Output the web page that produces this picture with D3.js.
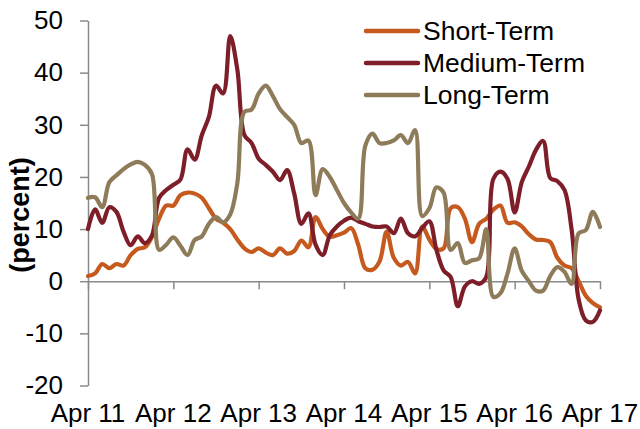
<!DOCTYPE html>
<html>
<head>
<meta charset="utf-8">
<script src="https://cdn.jsdelivr.net/npm/d3@7"></script>
<style>
  body { margin: 0; background: #fff; }
  text { font-family: Arial, "Liberation Sans", sans-serif; fill: #000; }
</style>
</head>
<body>
<script>
const svg_width = 640, svg_height = 429;

// monthly, Apr 2011 .. Apr 2017 (73 points)
var tickLabels = ["Apr 11","Apr 12","Apr 13","Apr 14","Apr 15","Apr 16","Apr 17"];
var seriesNames = ["Short-Term","Medium-Term","Long-Term"];
var seriesColors = ["#c65a1e","#7d1e29","#8e7b5a"];
var yTicks = [-20,-10,0,10,20,30,40,50];

var shortTerm = [1.0,1.5,3.3,2.5,3.3,3.0,5.0,6.2,6.5,8.5,12,14.5,
	14.5,16.5,17,16.8,16,14,12,11.2,10,8,6.3,5.6,
	6.3,5.5,5,6.3,5.3,5.8,7.8,6.5,12.3,10,8.5,8.8,
	9.3,10.2,7,2.5,2.2,3.8,9.5,4.5,3,3.7,1.5,10.5,
	8,6.2,6.3,14,14.2,12,7.5,11,12,13.7,14.5,11.2,
	11.3,10.5,9,8,7.9,7.5,4.5,3,2.5,0,-2.8,-4.2,
	-5];
var mediumTerm = [10,13.8,11.2,14.2,13.3,9.5,6.9,8.6,7.3,8.8,16,17.5,
	18.5,19.5,25.3,23.3,28,31.5,37.5,36,47,40.6,28,26.5,
	23.5,22.3,21,19.4,21.3,16.8,11,13,7,5,8.8,10.5,
	11.6,12.2,11.5,11,10.5,10.4,10.5,9.2,12,9.2,8.6,10.2,
	11.5,6,2.1,0.8,-4.8,-1,0,-0.5,0.8,19.6,21,19.6,
	13.2,19,22,25.2,26.9,19.8,19.2,17.5,10,-3.5,-7.5,-7.8,
	-5.6];
var longTerm = [16,16.1,14.2,19,20.3,21.5,22.4,22.9,22.3,20.5,6,7,
	8.4,6.8,5,7.9,8.6,11,12.3,11.3,12.8,18.8,32.5,32.9,
	36,37.5,35.5,33,31.5,30,26.5,27,16.5,21.5,20,17.5,
	15,13.2,12,26,28.3,26.5,26.5,27,28,26.5,29,12.5,
	14,18,17,6,7.3,3.5,4,4.4,10,-3,-2.3,1.5,
	6.3,2,0,-1.8,-1.8,1,2.7,1.8,-0.5,9.2,9.8,13.3,
	10.4];

var svgContainer = d3.select("body")
	.append("svg")
	.attr("width", svg_width)
	.attr("height", svg_height);

var xScale = d3.scaleLinear().domain([0, 72]).range([88, 600]);
var yScale = d3.scaleLinear().domain([-20, 50]).range([385.5, 20.5]);

// y axis
var yAxis = svgContainer.append("g")
	.attr("transform", "translate(88,0)")
	.call(d3.axisLeft(yScale).tickValues(yTicks).tickSize(8).tickSizeOuter(0).tickPadding(17)
		.tickFormat(function(d){ return String(d); }));
yAxis.selectAll("text").attr("font-size", "26px").attr("font-family", "Arial, 'Liberation Sans', sans-serif").attr("fill", "#000");

// x axis (crosses at zero)
var xAxis = svgContainer.append("g")
	.attr("transform", "translate(0," + yScale(0) + ")")
	.call(d3.axisBottom(xScale).tickValues(d3.range(0, 73, 12)).tickSize(8).tickSizeOuter(0).tickFormat(""));

svgContainer.selectAll(".domain, .tick line")
	.attr("stroke", "#8a8a8a")
	.attr("stroke-width", 1.5);

svgContainer.append("g").selectAll("text")
	.data(tickLabels)
	.enter()
	.append("text")
	.attr("x", function(d, i){ return xScale(i * 12); })
	.attr("y", 422)
	.attr("text-anchor", "middle")
	.attr("font-size", "26px")
	.text(function(d){ return d; });

// y title
svgContainer.append("text")
	.attr("transform", "translate(29,215) rotate(-90)")
	.attr("text-anchor", "middle")
	.attr("font-size", "27px")
	.attr("font-weight", "bold")
	.text("(percent)");

// lines
var allSeries = [shortTerm, mediumTerm, longTerm];
var lineFn = d3.line()
	.x(function(d, i){ return xScale(i); })
	.y(function(d){ return yScale(d); })
	.curve(d3.curveCatmullRom.alpha(0.5));

svgContainer.append("g").selectAll("path")
	.data(allSeries)
	.enter()
	.append("path")
	.attr("d", function(d){ return lineFn(d); })
	.attr("fill", "none")
	.attr("stroke", function(d, i){ return seriesColors[i]; })
	.attr("stroke-width", 4.2)
	.attr("stroke-linejoin", "round")
	.attr("stroke-linecap", "round");

// legend
var legend = svgContainer.append("g").selectAll("g")
	.data(seriesNames)
	.enter()
	.append("g")
	.attr("transform", function(d, i){ return "translate(0," + (31 + i * 32) + ")"; });
legend.append("line")
	.attr("x1", 366).attr("x2", 418)
	.attr("y1", 0).attr("y2", 0)
	.attr("stroke", function(d, i){ return seriesColors[i]; })
	.attr("stroke-width", 4.5)
	.attr("stroke-linecap", "round");
legend.append("text")
	.attr("x", 423)
	.attr("y", 0)
	.attr("dy", "0.35em")
	.attr("font-size", "26.5px")
	.text(function(d){ return d; });
</script>
</body>
</html>
